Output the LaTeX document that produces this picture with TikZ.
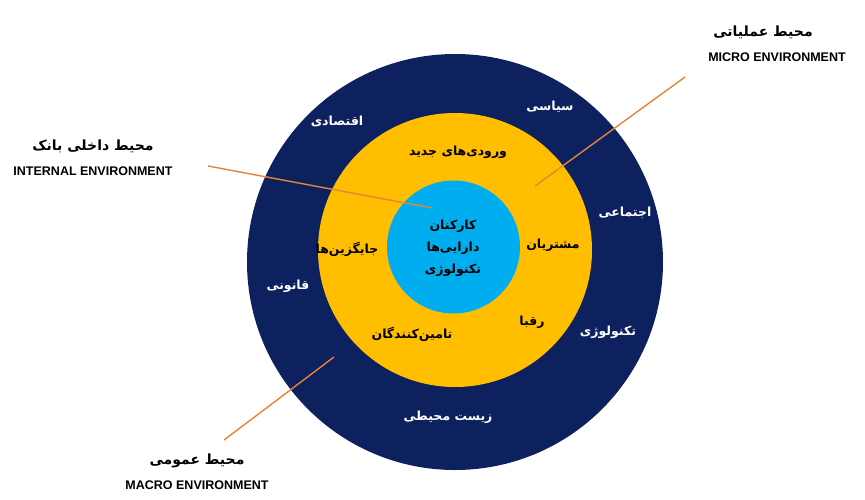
\documentclass[tikz,border=0pt]{standalone}
\usepackage{fontspec}
\setmainfont{Liberation Sans}
\newfontfamily\fafont[Script=Arabic]{DejaVu Sans}
\TeXXeTstate=1
\usetikzlibrary{positioning}
\definecolor{navy}{HTML}{0D215E}
\definecolor{gold}{HTML}{FFBF00}
\definecolor{sky}{HTML}{00AEEF}
\definecolor{leader}{HTML}{E8833A}

\begin{document}
\begin{tikzpicture}
[x=1pt, y=-1pt,
% STYLES
% rings of the environment
ring/.style={circle, inner sep=0pt, draw=none},
% persian labels inside the rings
falabel/.style={font=\fafont\bfseries\fontsize{12.5}{15}\selectfont, inner sep=1pt, align=center},
% title of each environment
fatitle/.style={font=\fafont\bfseries\fontsize{14}{16}\selectfont, inner sep=1pt},
% english subtitle
entitle/.style={font=\bfseries\fontsize{12.5}{14}\selectfont, inner sep=1pt},
% orange leader lines
leaderline/.style={draw=leader, line width=1.4pt}]

\useasboundingbox (0,0) rectangle (865,499);

% Draw rings
\node [ring, fill=navy, minimum size=416pt] (macro) at (455,262) {};
\node [ring, fill=gold, minimum size=274pt] (micro) at (455,250) {};
\node [ring, fill=sky, minimum size=133pt] (internal) at (453.5,247) {};

%%%%%%%%%%%%%%%
% macro ring
\node [falabel, text=white] (siasi) at (550,107) {\beginR سیاسی\endR};
\node [falabel, text=white] (eghtesadi) at (337,121) {\beginR اقتصادی\endR};
\node [falabel, text=white] (ejtemai) at (625,213) {\beginR اجتماعی\endR};
\node [falabel, text=white] (ghanooni) at (288,286) {\beginR قانونی\endR};
\node [falabel, text=white] (technology) at (608,332) {\beginR تکنولوژی\endR};
\node [falabel, text=white] (zist) at (448,417) {\beginR زیست محیطی\endR};

% micro ring
\node [falabel] (vorood) at (458,152) {\beginR ورودی‌های جدید\endR};
\node [falabel] (moshtarian) at (553,245) {\beginR مشتریان\endR};
\node [falabel] (jaygozin) at (347,249) {\beginR جایگزین‌ها\endR};
\node [falabel] (tamin) at (412,334) {\beginR تامین‌کنندگان\endR};
\node [falabel] (reghaba) at (532,322) {\beginR رقبا\endR};

% internal circle
\node [falabel] (karkonan) at (453,226) {\beginR کارکنان\endR};
\node [falabel] (daraei) at (453,248) {\beginR دارایی‌ها\endR};
\node [falabel] (tech) at (453,270) {\beginR تکنولوژی\endR};

% titles
\node [fatitle] (microtitle) at (763,32) {\beginR محیط عملیاتی\endR};
\node [entitle] (microen) at (777,57) {MICRO ENVIRONMENT};
\node [fatitle] (internaltitle) at (93,146) {\beginR محیط داخلی بانک\endR};
\node [entitle] (internalen) at (93,171) {INTERNAL ENVIRONMENT};
\node [fatitle] (macrotitle) at (197,461) {\beginR محیط عمومی\endR};
\node [entitle] (macroen) at (197,485) {MACRO ENVIRONMENT};
%%%%%%%%%%%%%%%

% leader ends
\coordinate (micro-from) at (685,77);
\coordinate (micro-to) at (535,186);
\coordinate (internal-from) at (208,166);
\coordinate (internal-to) at (432,208);
\coordinate (macro-from) at (224,440);
\coordinate (macro-to) at (334,357);

% Draw the leader lines
\path[leaderline]
(micro-from) edge (micro-to)
(internal-from) edge (internal-to)
(macro-from) edge (macro-to);

\end{tikzpicture}
\end{document}
